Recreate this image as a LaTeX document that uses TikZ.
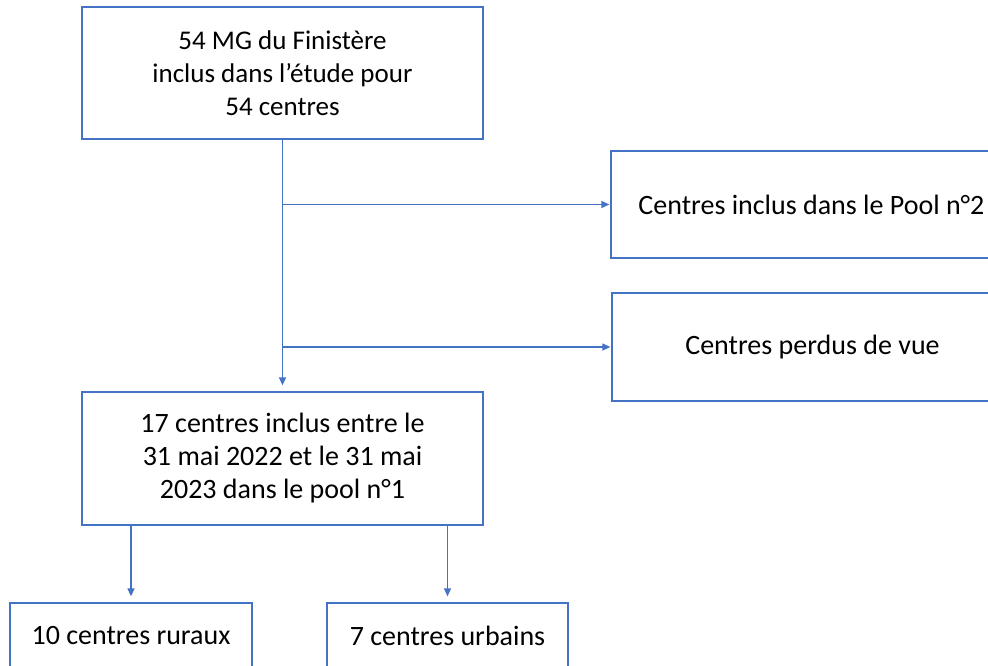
\documentclass[tikz,border=0pt]{standalone}
\usepackage{fontspec}
\setmainfont{Carlito}
\usepackage{tikz}
\usetikzlibrary{arrows.meta, calc}

\definecolor{officeblue}{HTML}{4472C4}

\tikzset{
	box/.style={draw=officeblue, line width=1.3pt, rectangle, align=center,
		inner sep=0pt, font=\fontsize{28}{33}\selectfont},
	flow/.style={draw=officeblue, line width=1.3pt,
		-{Triangle[length=8pt, width=7pt]}, shorten >=1pt}
}

\begin{document}
\begin{tikzpicture}[x=1pt, y=-1pt]
	\useasboundingbox (0,0) rectangle (988,665);
	\clip (0,0) rectangle (988,665);
	\fill[white] (0,0) rectangle (988,665);

	\def \bw {401pt}

	\node[box, minimum width=\bw, minimum height=132pt,
		font=\fontsize{27}{33}\selectfont] (mg) at (282.5,73)
		{54 MG du Finistère\\inclus dans l’étude pour\\54 centres};
	\node[box, minimum width=\bw, minimum height=107pt] (pooltwo) at (811.5,204.5)
		{Centres inclus dans le Pool n°2};
	\node[box, minimum width=\bw, minimum height=108pt] (perdus) at (812.5,347)
		{Centres perdus de vue};
	\node[box, minimum width=\bw, minimum height=133pt] (poolone) at (282.5,458.5)
		{17 centres inclus entre le\\31 mai 2022 et le 31 mai\\2023 dans le pool n°1};
	\node[box, minimum width=242pt, minimum height=66pt] (ruraux) at (131,636)
		{10 centres ruraux};
	\node[box, minimum width=241pt, minimum height=66pt] (urbains) at (447.5,636)
		{7 centres urbains};

	\draw[flow, shorten >=6pt] (mg.south) -- (poolone.north);
	\draw[flow] (mg.south |- pooltwo.west) -- (pooltwo.west);
	\draw[flow] (mg.south |- perdus.west) -- (perdus.west);
	\draw[flow, shorten >=6pt] (poolone.south -| ruraux.north) -- (ruraux.north);
	\draw[flow, shorten >=6pt] (poolone.south -| urbains.north) -- (urbains.north);
\end{tikzpicture}
\end{document}
